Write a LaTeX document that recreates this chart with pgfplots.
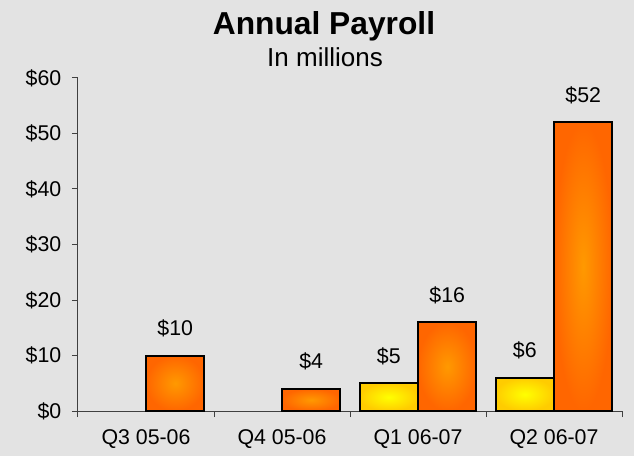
\documentclass[border=0pt]{standalone}
\usepackage{fontspec}
\setmainfont{Liberation Sans}
\usepackage{pgfplots}
\pgfplotsset{compat=1.18}
\definecolor{bg}{HTML}{E3E3E3}
\definecolor{orin}{HTML}{FF9900}
\definecolor{orout}{HTML}{FF6600}
\definecolor{yein}{HTML}{FFFF00}
\definecolor{yeout}{HTML}{FFCC00}
\definecolor{axisgray}{HTML}{404040}
\pgfplotsset{
  ybarstyle/.style={draw=black, line width=1.5pt, inner color=yein, outer color=yeout, bar shift=-0.215, forget plot},
  obarstyle/.style={draw=black, line width=1.5pt, inner color=orin, outer color=orout, bar shift=0.215, forget plot},
}
\begin{document}
\begin{tikzpicture}
\useasboundingbox[fill=bg] (-58.5pt,-33.75pt) rectangle (417pt,308.25pt);
\begin{axis}[
  at={(0pt,0pt)}, anchor=south west,
  scale only axis, width=408pt, height=249.75pt,
  xmin=-0.5, xmax=3.5, ymin=0, ymax=60,
  ytick={0,10,...,60},
  yticklabel={\$\pgfmathprintnumber{\tick}},
  xtick={0,1,2,3},
  xticklabels={Q3 05-06, Q4 05-06, Q1 06-07, Q2 06-07},
  minor xtick={-0.5,0.5,1.5,2.5,3.5},
  tick align=outside,
  major tick length=4.5pt, minor tick length=4.5pt,
  tick style={draw=axisgray, line width=0.75pt},
  major x tick style={draw=none},
  axis x line*=bottom, axis y line*=left,
  axis line style={-, draw=axisgray, line width=0.75pt},
  tick label style={font=\fontsize{16}{19}\selectfont},
  xticklabel style={yshift=-6pt},
  yticklabel style={xshift=-4.5pt},
  /pgf/number format/assume math mode=true,
  ybar=0pt, bar width=0.43,
  nodes near coords={\$\pgfmathprintnumber{\pgfplotspointmeta}},
  every node near coord/.append style={anchor=base, yshift=15pt, font=\fontsize{16}{19}\selectfont, text=black},
  clip=false,
]
% Series 1 (yellow)
\addplot[ybarstyle] coordinates {(2,5)};
\addplot[ybarstyle] coordinates {(3,6)};
% Series 2 (orange)
\addplot[obarstyle] coordinates {(0,10)};
\addplot[obarstyle] coordinates {(1,4)};
\addplot[obarstyle] coordinates {(2,16)};
\addplot[obarstyle] coordinates {(3,52)};
\end{axis}
\node[anchor=base] at (184.5pt,282pt) {\fontsize{23.8}{28}\selectfont\bfseries Annual Payroll};
\node[anchor=base] at (185.25pt,258.2pt) {\fontsize{19.5}{23}\selectfont In millions};
\end{tikzpicture}
\end{document}
